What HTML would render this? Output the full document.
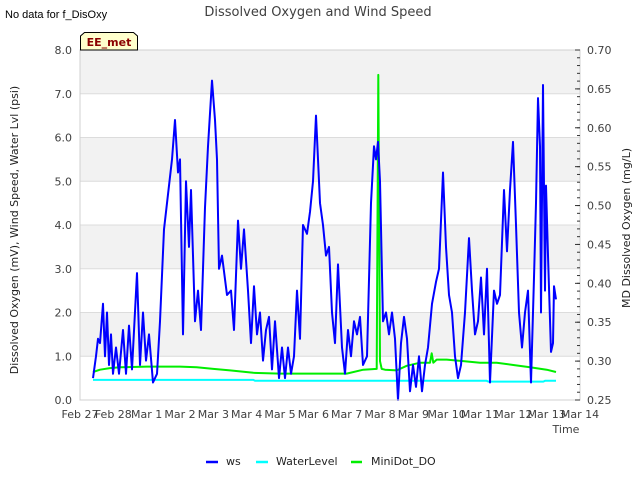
<!DOCTYPE html>
<html><head><meta charset="utf-8"><style>
body{margin:0;background:#fff;width:640px;height:480px;overflow:hidden;font-family:"DejaVu Sans","Liberation Sans",sans-serif}
svg{display:block}
</style></head><body>
<svg id="chart" width="640" height="480" xmlns="http://www.w3.org/2000/svg">
<rect x="0" y="0" width="640" height="480" fill="#fff"/>
<g id="bands"></g>
<g id="grid"></g>
<g id="series"></g>
<rect x="80" y="50" width="500" height="350" fill="none" stroke="#d0d0d0" stroke-width="1"/>
<g id="axes" font-size="11" fill="#404040"></g>
<text x="318" y="16" text-anchor="middle" font-size="13" fill="#404040">Dissolved Oxygen and Wind Speed</text>
<text x="5" y="18" font-size="11" fill="#000" font-family="Liberation Sans, sans-serif">No data for f_DisOxy</text>
<g>
<path d="M80.5,50 L80.5,36 L84.5,32.5 L133.5,32.5 L137.5,36 L137.5,50 Z" fill="#ffffcc" stroke="#000" stroke-width="1"/>
<text x="109" y="46" text-anchor="middle" font-size="11" font-weight="bold" fill="#8b0000">EE_met</text>
</g>
<text transform="translate(18,230) rotate(-90)" text-anchor="middle" font-size="11" fill="#222">Dissolved Oxygen (mV), Wind Speed, Water Lvl (psi)</text>
<text transform="translate(630,228) rotate(-90)" text-anchor="middle" font-size="11" fill="#222">MD Dissolved Oxygen (mg/L)</text>
<text x="566" y="433" text-anchor="middle" font-size="11" fill="#404040">Time</text>
<g font-size="11" fill="#222">
<g><line x1="206" y1="462" x2="218" y2="462" stroke="#0000ff" stroke-width="2.5"/><text x="226" y="465">ws</text></g>
<g><line x1="256" y1="462" x2="268" y2="462" stroke="#00ffff" stroke-width="2.5"/><text x="276" y="465">WaterLevel</text></g>
<g><line x1="351" y1="462" x2="362" y2="462" stroke="#00ee00" stroke-width="2.5"/><text x="371" y="465">MiniDot_DO</text></g>
</g>
</svg>
<script>
const xTickLabels=["Feb 27","Feb 28","Mar 1","Mar 2","Mar 3","Mar 4","Mar 5","Mar 6","Mar 7","Mar 8","Mar 9","Mar 10","Mar 11","Mar 12","Mar 13","Mar 14"];
const yLeftTicks=[0,1,2,3,4,5,6,7,8];
const yRightTicks=[0.25,0.30,0.35,0.40,0.45,0.50,0.55,0.60,0.65,0.70];
// ws: day offsets from Feb 27 and values
const wsDays=[0.39,0.48,0.54,0.6,0.69,0.75,0.81,0.87,0.93,0.99,1.08,1.17,1.29,1.38,1.47,1.56,1.71,1.8,1.89,1.98,2.07,2.19,2.31,2.4,2.52,2.64,2.76,2.85,2.94,3.0,3.09,3.18,3.27,3.33,3.45,3.54,3.63,3.75,3.84,3.96,4.05,4.11,4.17,4.26,4.41,4.53,4.62,4.74,4.83,4.92,5.04,5.13,5.22,5.31,5.4,5.49,5.58,5.67,5.76,5.85,5.97,6.06,6.15,6.24,6.33,6.42,6.51,6.6,6.69,6.81,6.9,6.99,7.08,7.2,7.29,7.38,7.47,7.56,7.65,7.74,7.86,7.95,8.04,8.13,8.22,8.31,8.4,8.49,8.61,8.73,8.82,8.88,8.94,9.0,9.09,9.18,9.27,9.36,9.45,9.54,9.63,9.72,9.81,9.9,9.99,10.08,10.17,10.26,10.35,10.44,10.56,10.68,10.77,10.89,10.98,11.07,11.16,11.25,11.34,11.43,11.55,11.67,11.76,11.85,11.94,12.03,12.12,12.21,12.3,12.42,12.51,12.6,12.72,12.81,12.9,12.99,13.08,13.17,13.26,13.35,13.44,13.53,13.62,13.68,13.74,13.8,13.83,13.89,13.95,13.98,14.04,14.13,14.19,14.22,14.28];
const wsValues=[0.5,1.0,1.4,1.3,2.2,1.0,2.0,0.8,1.5,0.6,1.2,0.6,1.6,0.6,1.7,0.7,2.9,0.8,2.0,0.9,1.5,0.4,0.6,1.8,3.9,4.7,5.5,6.4,5.2,5.5,1.5,5.0,3.5,4.8,1.8,2.5,1.6,4.4,5.8,7.3,6.4,5.5,3.0,3.3,2.4,2.5,1.6,4.1,3.0,3.9,2.5,1.3,2.6,1.5,2.0,0.9,1.6,1.9,0.7,1.8,0.5,1.2,0.5,1.2,0.6,1.0,2.5,1.4,4.0,3.8,4.3,5.0,6.5,4.5,4.0,3.3,3.5,2.0,1.3,3.1,1.2,0.6,1.6,1.0,1.8,1.5,1.9,0.8,1.0,4.5,5.8,5.5,5.9,5.0,1.8,2.0,1.5,2.0,1.4,0.0,1.3,1.9,1.4,0.2,0.8,0.3,1.0,0.2,0.8,1.2,2.2,2.7,3.0,5.2,3.5,2.4,2.0,1.0,0.5,0.8,2.0,3.7,2.5,1.5,1.8,2.8,1.5,3.0,0.4,2.5,2.2,2.4,4.8,3.4,4.8,5.9,4.0,2.0,1.2,2.0,2.5,0.4,2.8,4.5,6.9,5.8,2.0,7.2,2.5,4.9,3.3,1.1,1.3,2.6,2.3];
const wlDays=[0.39,5.2,5.25,12.2,12.25,13.9,13.95,14.28];
const wlValues=[0.46,0.46,0.44,0.44,0.42,0.42,0.44,0.44];
const doDays=[0.39,0.6,0.9,1.2,2.0,3.0,3.5,4.0,4.5,5.2,6.0,7.0,8.0,8.5,8.9,8.95,9.0,9.05,9.15,9.5,9.8,10.2,10.5,10.55,10.6,10.7,11.0,11.5,12.0,12.5,13.0,13.5,14.0,14.28];
const doValues=[0.286,0.289,0.291,0.292,0.293,0.293,0.292,0.290,0.288,0.285,0.284,0.284,0.284,0.289,0.290,0.668,0.300,0.290,0.289,0.288,0.294,0.298,0.298,0.310,0.298,0.302,0.302,0.300,0.298,0.298,0.295,0.292,0.289,0.286];

const NS="http://www.w3.org/2000/svg";
const X0=80,X1=580,Y0=400,Y1=50;
const xs=d=>X0+d*(X1-X0)/15;
const yl=v=>Y0-v*(Y0-Y1)/8;
const yr=v=>Y0-(v-0.25)*(Y0-Y1)/0.45;
function mk(tag,attrs,parent){const e=document.createElementNS(NS,tag);for(const k in attrs)e.setAttribute(k,attrs[k]);parent.appendChild(e);return e;}
const bands=document.getElementById('bands'),grid=document.getElementById('grid'),series=document.getElementById('series'),axes=document.getElementById('axes');
for(let v=1;v<8;v+=2){
  const r=mk('rect',{x:X0,y:yl(v+1),width:X1-X0,height:yl(v)-yl(v+1),fill:'#f2f2f2'},bands);
  
  
}
yLeftTicks.forEach(v=>{
  const l=mk('line',{x1:X0,x2:X1,y1:yl(v),y2:yl(v),stroke:'#dcdcdc','stroke-width':1},grid);
  
  
  const t=mk('text',{x:72,y:yl(v)+4,'text-anchor':'end'},axes);t.textContent=v.toFixed(1);
  
  
});
yRightTicks.forEach(v=>{
  const t=mk('text',{x:587,y:yr(v)+4},axes);t.textContent=v.toFixed(2);
  
  
  mk('line',{x1:575,x2:580,y1:yr(v),y2:yr(v),stroke:'#333','stroke-width':1},axes);
});
for(let v=0.26;v<0.70;v+=0.01){mk('line',{x1:577,x2:580,y1:yr(v),y2:yr(v),stroke:'#333','stroke-width':1},axes);}
xTickLabels.forEach((s,i)=>{
  const t=mk('text',{x:xs(i),y:418,'text-anchor':'middle'},axes);t.textContent=s;
  
  
});
function line(days,vals,fy,color,w,name){
  const p=days.map((d,i)=>(i?'L':'M')+xs(d).toFixed(1)+','+fy(vals[i]).toFixed(1)).join('');
  const e=mk('path',{d:p,fill:'none',stroke:color,'stroke-width':w,'stroke-linejoin':'round'},series);
  
  
}
line(wlDays,wlValues,yl,'#00ffff',2,'waterlevel-line');
line(doDays,doValues,yr,'#00ee00',2,'minidot-do-line');
line(wsDays,wsValues,yl,'#0000ff',2,'ws-line');
</script>
</body></html>
